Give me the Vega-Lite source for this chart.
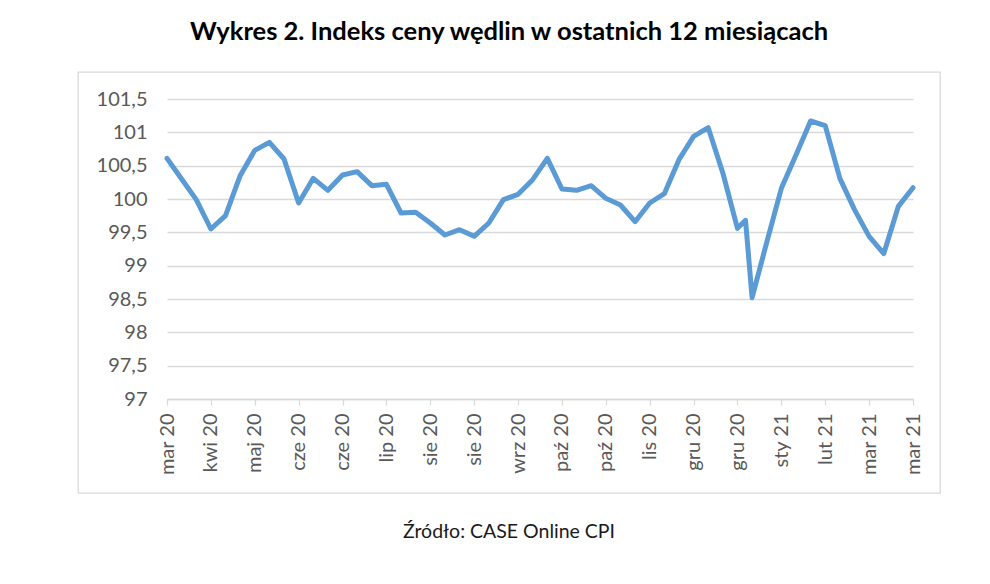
{
  "$schema": "https://vega.github.io/schema/vega-lite/v6.json",
  "padding": {"left": 77, "top": 19, "right": 0, "bottom": 0},
  "background": "white",
  "title": {
    "text": "Wykres 2. Indeks ceny wędlin w ostatnich 12 miesiącach",
    "font": "Lato",
    "fontSize": 25.5,
    "fontWeight": "bold",
    "color": "#000000",
    "anchor": "middle",
    "offset": 26
  },
  "config": {
    "view": {"stroke": "#d9d9d9", "strokeWidth": 1.3},
    "font": "Lato"
  },
  "vconcat": [
    {
      "width": 862,
      "height": 421,
      "title": {
        "text": "Źródło: CASE Online CPI",
        "orient": "bottom",
        "font": "Lato",
        "fontSize": 19.5,
        "fontWeight": "normal",
        "color": "#1a1a1a",
        "anchor": "middle",
        "offset": 30
      },
      "data": {
        "values": [
          {"t": 0, "v": 100.61},
          {"t": 1, "v": 100.30},
          {"t": 2, "v": 99.99},
          {"t": 3, "v": 99.55},
          {"t": 4, "v": 99.75},
          {"t": 5, "v": 100.35},
          {"t": 6, "v": 100.73},
          {"t": 7, "v": 100.85},
          {"t": 8, "v": 100.60},
          {"t": 9, "v": 99.94},
          {"t": 10, "v": 100.31},
          {"t": 11, "v": 100.13},
          {"t": 12, "v": 100.36},
          {"t": 13, "v": 100.41},
          {"t": 14, "v": 100.20},
          {"t": 15, "v": 100.22},
          {"t": 16, "v": 99.79},
          {"t": 17, "v": 99.80},
          {"t": 18, "v": 99.64},
          {"t": 19, "v": 99.46},
          {"t": 20, "v": 99.54},
          {"t": 21, "v": 99.44},
          {"t": 22, "v": 99.64},
          {"t": 23, "v": 99.99},
          {"t": 24, "v": 100.07},
          {"t": 25, "v": 100.29},
          {"t": 26, "v": 100.61},
          {"t": 27, "v": 100.15},
          {"t": 28, "v": 100.13},
          {"t": 29, "v": 100.20},
          {"t": 30, "v": 100.01},
          {"t": 31, "v": 99.91},
          {"t": 32, "v": 99.66},
          {"t": 33, "v": 99.94},
          {"t": 34, "v": 100.08},
          {"t": 35, "v": 100.59},
          {"t": 36, "v": 100.94},
          {"t": 37, "v": 101.07},
          {"t": 38, "v": 100.39},
          {"t": 39, "v": 99.56},
          {"t": 39.55, "v": 99.68},
          {"t": 40, "v": 98.52},
          {"t": 41, "v": 99.35},
          {"t": 42, "v": 100.16},
          {"t": 43, "v": 100.66},
          {"t": 44, "v": 101.17},
          {"t": 45, "v": 101.10},
          {"t": 46, "v": 100.31},
          {"t": 47, "v": 99.84},
          {"t": 48, "v": 99.44},
          {"t": 49, "v": 99.18},
          {"t": 50, "v": 99.89},
          {"t": 51, "v": 100.17}
        ]
      },
      "mark": {
        "type": "line",
        "color": "#5b9bd5",
        "strokeWidth": 5,
        "strokeJoin": "round",
        "strokeCap": "round"
      },
      "encoding": {
        "x": {
          "field": "t",
          "type": "quantitative",
          "scale": {"domain": [0, 51], "range": [89, 835], "nice": false, "zero": false},
          "axis": {
            "title": null,
            "offset": -94,
            "values": [0, 3, 6, 9, 12, 15, 18, 21, 24, 27, 30, 33, 36, 39, 42, 45, 48, 51],
            "labelExpr": "['mar 20','kwi 20','maj 20','cze 20','cze 20','lip 20','sie 20','sie 20','wrz 20','paź 20','paź 20','lis 20','gru 20','gru 20','sty 21','lut 21','mar 21','mar 21'][round(datum.value/3)]",
            "labelAngle": -90,
            "labelAlign": "right",
            "labelBaseline": "middle",
            "labelPadding": 8,
            "labelOverlap": false,
            "labelFont": "Lato",
            "labelFontSize": 20,
            "labelColor": "#595959",
            "grid": false,
            "domain": true,
            "domainColor": "#d9d9d9",
            "domainWidth": 1.3,
            "ticks": true,
            "tickColor": "#d9d9d9",
            "tickWidth": 1.3,
            "tickSize": 6
          }
        },
        "y": {
          "field": "v",
          "type": "quantitative",
          "scale": {"domain": [97, 101.5], "range": [327, 27], "nice": false, "zero": false},
          "axis": {
            "title": null,
            "offset": -89,
            "values": [97, 97.5, 98, 98.5, 99, 99.5, 100, 100.5, 101, 101.5],
            "labelExpr": "replace(format(datum.value, '~r'), '.', ',')",
            "labelFont": "Lato",
            "labelFontSize": 20,
            "labelColor": "#595959",
            "labelPadding": 20,
            "domain": false,
            "ticks": false,
            "grid": true,
            "gridColor": "#d9d9d9",
            "gridWidth": 1.3
          }
        }
      }
    }
  ]
}
